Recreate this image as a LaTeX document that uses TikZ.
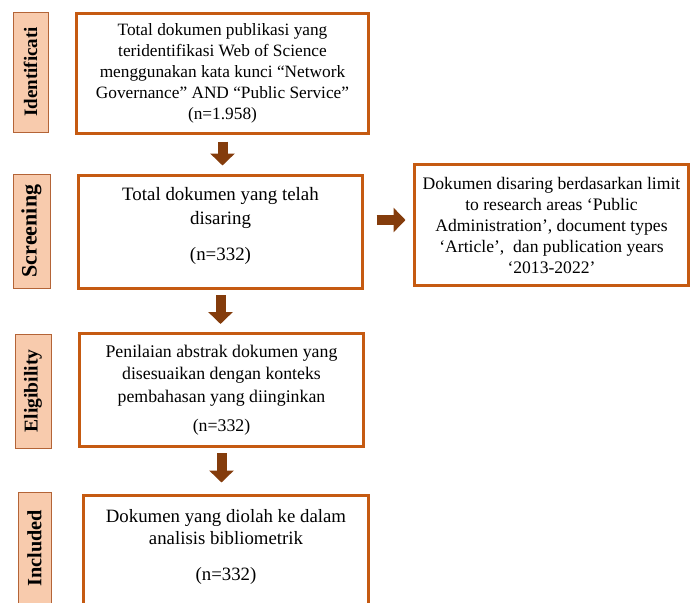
\documentclass[tikz,border=0pt]{standalone}
\usepackage{fontspec}
\setmainfont{Liberation Serif}
\usepackage{xcolor}
\usetikzlibrary{positioning, arrows.meta, calc}

\definecolor{boxorange}{RGB}{197,90,17}
\definecolor{peach}{RGB}{248,203,173}
\definecolor{stageborder}{RGB}{180,100,55}
\definecolor{arrowbrown}{RGB}{132,60,12}

\begin{document}
\begin{tikzpicture}[
	x=1pt, y=-1pt,
	% Define styles for the blocks
	block/.style={
		draw=boxorange,
		fill=white,
		line width=3pt,
		align=center,
		inner sep=3pt,
		font=\fontsize{17.3}{21}\selectfont
	},
	stage_label/.style={
		draw=stageborder,
		fill=peach,
		line width=0.8pt,
		rotate=90,
		inner sep=2pt,
		font=\bfseries\fontsize{19}{20}\selectfont
	},
	flow_arrow/.style={
		draw=arrowbrown,
		line width=10pt,
		-{Triangle[width=24pt, length=12pt]}
	}
	]
	
	\useasboundingbox (0,0) rectangle (692,602);
	
	% --- 1. IDENTIFICATION ---
	\node[stage_label, minimum width=120pt, minimum height=35pt] (lab_ident) at (30.5,72) {Identificati};
	\node[block, minimum width=292pt, minimum height=120pt] (box_ident) at (222.5,73.5) {
		Total dokumen publikasi yang\\
		teridentifikasi Web of Science\\
		menggunakan kata kunci “Network\\
		Governance” AND “Public Service”\\
		(n=1.958)};
	
	% --- 2. SCREENING ---
	\node[stage_label, minimum width=114pt, minimum height=37pt, font=\bfseries\fontsize{22}{22}\selectfont] (lab_screen) at (31.5,231) {Screening};
	\node[block, minimum width=284pt, minimum height=113pt, text depth=17pt, font=\fontsize{18.9}{24}\selectfont] (box_screen) at (220.5,232) {
		Total dokumen yang telah\\
		disaring\\[12pt]
		(n=332)};
	\draw[flow_arrow, shorten <=6.5pt, shorten >=8.5pt] (box_ident.south) -- (box_ident.south |- box_screen.north);
	
	% Filter criteria
	\node[block, minimum width=274pt, minimum height=121pt, font=\fontsize{17.6}{21}\selectfont] (box_filter) at (551.5,225) {
		Dokumen disaring berdasarkan limit\\
		to research areas ‘Public\\
		Administration’, document types\\
		‘Article’,~ dan publication years\\
		‘2013-2022’};
	\draw[flow_arrow, shorten <=12.5pt, shorten >=7.5pt] ([yshift=12pt]box_screen.east) -- ([yshift=12pt]box_screen.east -| box_filter.west);
	
	% --- 3. ELIGIBILITY ---
	\node[stage_label, minimum width=114pt, minimum height=36pt, font=\bfseries\fontsize{19.6}{20}\selectfont] (lab_elig) at (33,391) {Eligibility};
	\node[block, minimum width=284pt, minimum height=113pt, font=\fontsize{17.8}{22.5}\selectfont] (box_elig) at (221.5,390) {
		Penilaian abstrak dokumen yang\\
		disesuaikan dengan konteks\\
		pembahasan yang diinginkan\\[7pt]
		(n=332)};
	\draw[flow_arrow, shorten <=5pt, shorten >=8pt] (box_screen.south) -- (box_screen.south |- box_elig.north);
	
	% --- 4. INCLUDED ---
	\node[stage_label, minimum width=112pt, minimum height=33pt, anchor=east, font=\bfseries\fontsize{20.3}{20}\selectfont] (lab_incl) at (34.5,492) {Included};
	\node[block, minimum width=285pt, anchor=north, text depth=60pt, font=\fontsize{18.8}{22}\selectfont] (box_incl) at (226,493.5) {
		\rule{0pt}{24pt}Dokumen yang diolah ke dalam\\
		analisis bibliometrik\\[14pt]
		(n=332)};
	\draw[flow_arrow, shorten <=5pt, shorten >=11pt] (box_elig.south) -- (box_elig.south |- box_incl.north);
	
\end{tikzpicture}
\end{document}
